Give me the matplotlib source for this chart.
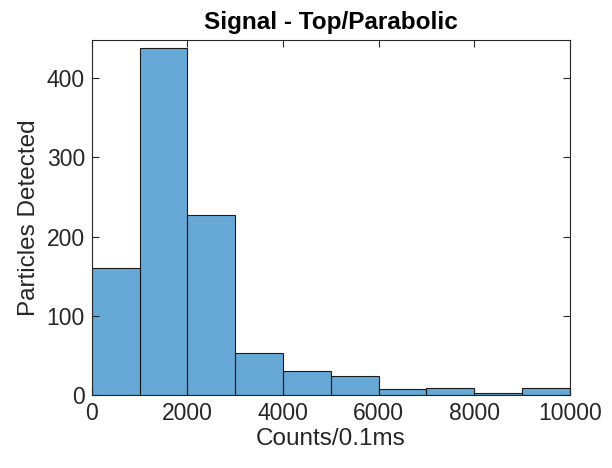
import matplotlib
matplotlib.use('Agg')
import matplotlib.pyplot as plt
import numpy as np

bin_edges = [0, 1000, 2000, 3000, 4000, 5000, 6000, 7000, 8000, 9000, 10000]
counts = [161, 438, 227, 53, 30, 24, 8, 9, 2, 9]
title_text = 'Signal - Top/Parabolic'
x_label = 'Counts/0.1ms'
y_label = 'Particles Detected'

plt.rcParams['font.family'] = ['Liberation Sans', 'DejaVu Sans']

fig = plt.figure(figsize=(6.12, 4.68), dpi=100)
ax = fig.add_axes([0.150, 0.156, 0.781, 0.758])

ax.stairs(counts, bin_edges, fill=True, facecolor='#66a9d6', edgecolor='none')
ax.bar(bin_edges[:-1], counts, width=np.diff(bin_edges), align='edge',
       facecolor='none', edgecolor='#1a1a1a', linewidth=0.8)

ax.set_xlim(0, 10000)
ax.set_ylim(0, 448)
ax.set_xticks([0, 2000, 4000, 6000, 8000, 10000])
ax.set_yticks([0, 100, 200, 300, 400])

axis_color = '#262626'
for s in ax.spines.values():
    s.set_color(axis_color)
    s.set_linewidth(0.8)
ax.tick_params(direction='in', top=True, right=True, length=5, width=0.8,
               colors=axis_color, labelsize=16.5, labelcolor=axis_color, pad=5)

ax.set_title(title_text, fontsize=17.5, fontweight='bold', color='black', pad=8)
ax.set_xlabel(x_label, fontsize=17.5, color=axis_color, labelpad=2)
ax.set_ylabel(y_label, fontsize=17.5, color=axis_color, labelpad=5)

fig.savefig('out.png', dpi=100)
